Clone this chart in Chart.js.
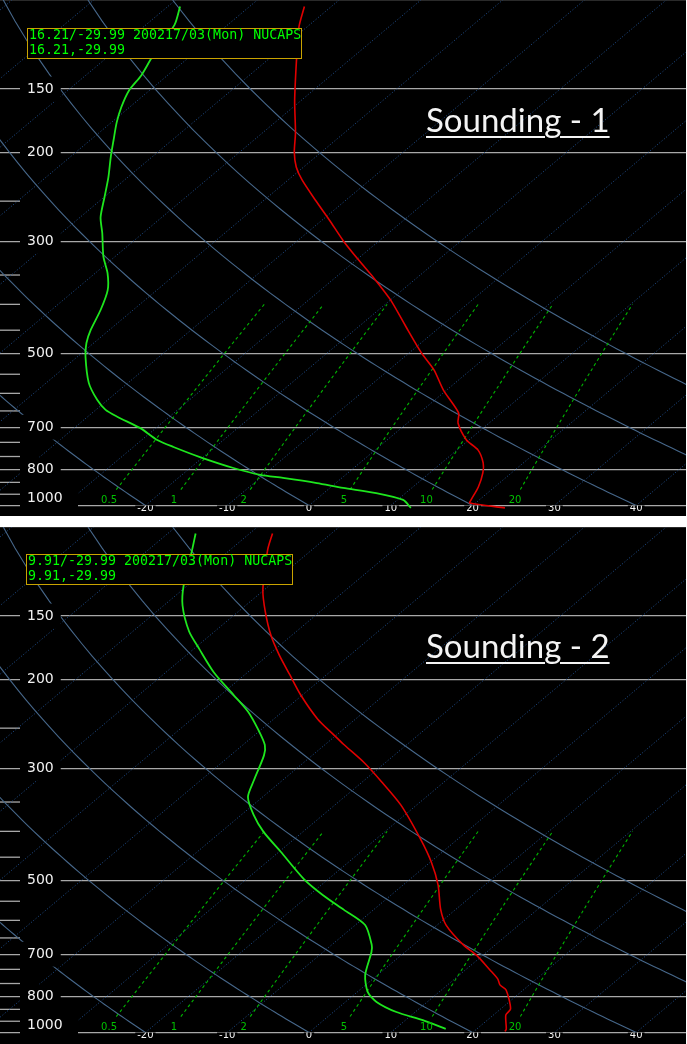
<!DOCTYPE html>
<html><head><meta charset="utf-8">
<script src="https://cdn.jsdelivr.net/npm/chart.js@4.4.1/dist/chart.umd.min.js"></script>
<style>
html,body{margin:0;padding:0;background:#fff;width:687px;height:1044px;overflow:hidden}
.panel{position:absolute;left:0;width:686px;background:#000;overflow:hidden}
#p1{top:0;height:516px}
#p2{top:527px;height:517px}
.panel canvas{position:absolute;left:0;top:0}
.hdr{position:absolute;box-sizing:border-box;background:#000;border:1.5px solid #c9a300;color:#00ff00;font-family:"DejaVu Sans Mono",monospace;font-size:13.3px;line-height:15px;white-space:pre;padding:0 0 0 1px;z-index:2}
.hdr span{position:relative;top:-2px;display:block}
.ttl{position:absolute;color:#f4f4f4;font-family:Lato,"Open Sans",sans-serif;font-size:33px;line-height:38px;text-decoration:underline;text-decoration-thickness:2px;text-underline-offset:4px;white-space:nowrap;z-index:2}
</style></head>
<body>
<div class="panel" id="p1">
  <canvas id="c1" width="686" height="516"></canvas>
  <div class="hdr" style="left:27px;top:28px;width:275px;height:31px"><span id="h1a"></span><span id="h1b"></span></div>
  <div class="ttl" id="t1" style="left:426px;top:100px"></div>
</div>
<div class="panel" id="p2">
  <canvas id="c2" width="686" height="516"></canvas>
  <div class="hdr" style="left:26px;top:27px;width:267px;height:31px"><span id="h2a"></span><span id="h2b"></span></div>
  <div class="ttl" id="t2" style="left:426px;top:99px"></div>
</div>
<script>
// ---------------- data ----------------
const pressureTicks      = [100, 150, 200, 300, 500, 700, 850, 1000];
const pressureTickLabels = ['', '150', '200', '300', '500', '700', '800', '1000'];
const minorPressureTicks = [250, 350, 400, 450, 550, 600, 650, 750, 800, 900, 950];
const tempTicks          = [-20, -10, 0, 10, 20, 30, 40];
const isothermTemps      = [-110, -100, -90, -80, -70, -60, -50, -40, -30, -20, -10, 0, 10, 20, 30, 40];
const adiabatThetas      = [-20, 0, 20, 40, 60, 80];                  // °C at 1000 hPa
const mixingRatios       = [0.5, 1, 2, 5, 10, 20];                    // g/kg
const mixingRatioLabels  = ['0.5', '1', '2', '5', '10', '20'];

// Sounding 1 (16.21/-29.99)
const s1TempP = [103, 113, 130, 158, 183, 200, 214, 227, 249, 272, 300, 327, 355, 392, 443, 499, 539, 591, 656, 687, 742, 777, 824, 862, 919, 975, 989, 1011];
const s1Temp  = [-73.3, -71.0, -66.8, -60.8, -56.0, -53.3, -50.9, -48.3, -43.7, -39.2, -34.3, -29.7, -25.2, -20.0, -14.2, -8.5, -4.5, -0.4, 4.8, 6.2, 9.7, 12.6, 15.1, 16.5, 18.0, 19.0, 19.3, 24.3];
const s1DewP  = [103, 112, 130, 141, 151, 163, 175, 189, 204, 224, 245, 269, 289, 322, 347, 375, 410, 449, 477, 508, 572, 618, 647, 668, 703, 742, 766, 802, 843, 870, 882, 903, 923, 945, 975, 1011];
const s1Dew   = [-88.5, -86.5, -84.5, -83.2, -82.5, -81.0, -79.3, -77.2, -75.1, -72.4, -70.0, -67.5, -65.0, -61.4, -58.5, -56.0, -54.0, -52.3, -50.9, -49.0, -44.8, -41.3, -38.8, -36.3, -31.9, -28.1, -25.1, -20.4, -14.7, -10.4, -7.2, -2.3, 1.6, 6.4, 10.7, 12.8];

// Sounding 2 (9.91/-29.99)
const s2TempP = [103, 111, 133, 147, 164, 179, 196, 215, 240, 258, 269, 292, 319, 355, 414, 460, 511, 570, 613, 671, 703, 752, 784, 805, 824, 898, 923, 984, 995];
const s2Temp  = [-77.2, -75.4, -70.2, -66.7, -62.5, -58.7, -54.5, -50.2, -44.6, -40.3, -37.8, -32.7, -27.7, -21.9, -14.6, -9.9, -5.7, -1.9, 1.1, 6.1, 9.2, 13.0, 15.3, 16.4, 17.9, 21.2, 21.5, 23.6, 23.8];
const s2DewP  = [103, 112, 130, 143, 161, 174, 194, 215, 232, 252, 270, 283, 317, 342, 371, 401, 439, 497, 535, 572, 613, 671, 693, 770, 832, 870, 911, 945, 984];
const s2Dew   = [-86.6, -84.4, -80.6, -77.7, -73.1, -69.4, -64.1, -58.4, -54.2, -50.3, -47.3, -45.9, -43.5, -41.8, -38.5, -34.8, -29.8, -23.0, -18.3, -13.6, -8.8, -5.1, -4.1, -1.5, 1.3, 3.8, 7.7, 12.1, 16.2];

const header1 = ['16.21/-29.99 200217/03(Mon) NUCAPS', '16.21,-29.99'];
const header2 = ['9.91/-29.99 200217/03(Mon) NUCAPS', '9.91,-29.99'];
const titles  = ['Sounding - 1', 'Sounding - 2'];

// ---------------- diagram geometry ----------------
const SKEW = 32;                  // isotherm skew, °C per ln(1000/p)
const TEMP_MIN = -37.78, TEMP_MAX = 46.09;
const X_AXIS_HEIGHT = 10.5;
const MINOR_TICK_LEN = 20;
const LABEL_GAP_LEFT = 20, LABEL_GAP_RIGHT_1000 = 78;
const MIX_TOP = 400, MIX_BOTTOM = 930, MIX_LABEL_P = 970;
const GRID_COLOR = '#a8a8a8';

function skewX(t, p) { return t + SKEW * Math.log(1000 / p); }
function adiabatTemp(thetaC, p) { return (thetaC + 273.15) * Math.pow(p / 1000, 0.286) - 273.15; }
function mixDewpoint(w, p) { const e = w * p / (622 + w); const l = Math.log(e / 6.112); return 243.5 * l / (17.67 - l); }

const skewtDecor = {
  id: 'skewtDecor',
  beforeDatasetsDraw(chart) {
    const { ctx, chartArea, scales: { y } } = chart;
    ctx.save();
    ctx.strokeStyle = GRID_COLOR; ctx.lineWidth = 1.3;
    minorPressureTicks.forEach(p => {
      const py = y.getPixelForValue(p);
      ctx.beginPath(); ctx.moveTo(chartArea.left, py); ctx.lineTo(chartArea.left + MINOR_TICK_LEN, py); ctx.stroke();
    });
    ctx.restore();
  },
  afterDatasetsDraw(chart) {
    const { ctx, chartArea, scales: { x, y } } = chart;
    ctx.save();
    const pb = y.getPixelForValue(1000);
    ctx.fillStyle = '#000';
    ctx.fillRect(chartArea.left + LABEL_GAP_LEFT, pb - 18, LABEL_GAP_RIGHT_1000 - LABEL_GAP_LEFT, 20);
    ctx.fillStyle = '#00c000';
    ctx.font = '10px "DejaVu Sans"';
    ctx.textAlign = 'center'; ctx.textBaseline = 'middle';
    mixingRatios.forEach((w, i) => {
      const px = x.getPixelForValue(skewX(mixDewpoint(w, MIX_LABEL_P), MIX_LABEL_P));
      const py = y.getPixelForValue(MIX_LABEL_P + 5);
      ctx.fillText(mixingRatioLabels[i], px, py);
    });
    ctx.restore();
  }
};

function buildChart(canvasId, tP, tT, dP, dT) {
  const datasets = [];
  const soundingClip = { left: 0, top: 0, right: 0, bottom: 12 };
  datasets.push({ label: 'Temperature', data: tP.map((p, i) => ({ x: skewX(tT[i], p), y: p })),
    borderColor: '#e00000', borderWidth: 1.6, tension: 0.25, order: 1, clip: soundingClip });
  datasets.push({ label: 'Dewpoint', data: dP.map((p, i) => ({ x: skewX(dT[i], p), y: p })),
    borderColor: '#1ee61e', borderWidth: 1.8, tension: 0.25, order: 1, clip: soundingClip });
  mixingRatios.forEach(w => {
    const pts = [];
    for (let p = MIX_BOTTOM; p >= MIX_TOP; p -= 10) pts.push({ x: skewX(mixDewpoint(w, p), p), y: p });
    datasets.push({ label: 'w' + w, data: pts, borderColor: '#00b400', borderWidth: 1.1, borderDash: [3, 3], order: 3 });
  });
  adiabatThetas.forEach(th => {
    const pts = [];
    for (let p = 1000; p >= 100; p -= 10) pts.push({ x: skewX(adiabatTemp(th, p), p), y: p });
    datasets.push({ label: 'th' + th, data: pts, borderColor: '#46678a', borderWidth: 1.1, order: 4 });
  });
  isothermTemps.forEach(t => {
    datasets.push({ label: 'T' + t, data: [{ x: skewX(t, 1000), y: 1000 }, { x: skewX(t, 100), y: 100 }],
      borderColor: '#21508f', borderWidth: 1, borderDash: [1, 2], order: 5 });
  });

  return new Chart(document.getElementById(canvasId), {
    type: 'scatter',
    data: { datasets },
    options: {
      responsive: false, animation: false, events: [],
      layout: { padding: 0, autoPadding: false },
      plugins: { legend: { display: false }, tooltip: { enabled: false } },
      elements: { line: { tension: 0 }, point: { radius: 0 } },
      datasets: { scatter: { showLine: true, pointRadius: 0 } },
      scales: {
        x: {
          type: 'linear', position: 'bottom', min: TEMP_MIN, max: TEMP_MAX,
          afterBuildTicks: s => { s.ticks = tempTicks.map(v => ({ value: v })); },
          afterFit: s => { s.height = X_AXIS_HEIGHT; s.paddingLeft = 0; s.paddingRight = 0; },
          grid: { display: false, drawTicks: false }, border: { display: false },
          ticks: { autoSkip: false, maxRotation: 0, color: '#f4f4f4', font: { family: 'DejaVu Sans', size: 10 },
            padding: -3, z: 1, showLabelBackdrop: true, backdropColor: '#000',
            backdropPadding: { left: 2, right: 2, top: 0, bottom: 0 }, callback: v => String(v) }
        },
        y: {
          type: 'logarithmic', position: 'left', reverse: true, min: 100, max: 1000,
          afterBuildTicks: s => { s.ticks = pressureTicks.map(v => ({ value: v })); },
          afterFit: s => { s.width = 0; s.paddingTop = 0; s.paddingBottom = 0; },
          grid: { color: GRID_COLOR, lineWidth: 1.3, drawTicks: false }, border: { display: false },
          ticks: {
            autoSkip: false, mirror: true, padding: 27, color: '#f0f0f0', z: 1,
            font: c => ({ family: 'DejaVu Sans', size: 14, lineHeight: (c.tick && c.tick.value === 1000) ? 1.0 : 1.2 }),
            callback: v => { const l = pressureTickLabels[pressureTicks.indexOf(v)]; return v === 1000 ? [l, ''] : l; },
            showLabelBackdrop: c => !!(c.tick && c.tick.value !== 1000 && pressureTickLabels[pressureTicks.indexOf(c.tick.value)]),
            backdropColor: '#000',
            backdropPadding: { left: 7, right: 7, top: 4, bottom: 4 }
          }
        }
      }
    },
    plugins: [skewtDecor]
  });
}

document.getElementById('h1a').textContent = header1[0];
document.getElementById('h1b').textContent = header1[1];
document.getElementById('h2a').textContent = header2[0];
document.getElementById('h2b').textContent = header2[1];
document.getElementById('t1').textContent = titles[0];
document.getElementById('t2').textContent = titles[1];

buildChart('c1', s1TempP, s1Temp, s1DewP, s1Dew);
buildChart('c2', s2TempP, s2Temp, s2DewP, s2Dew);
</script>
</body></html>
